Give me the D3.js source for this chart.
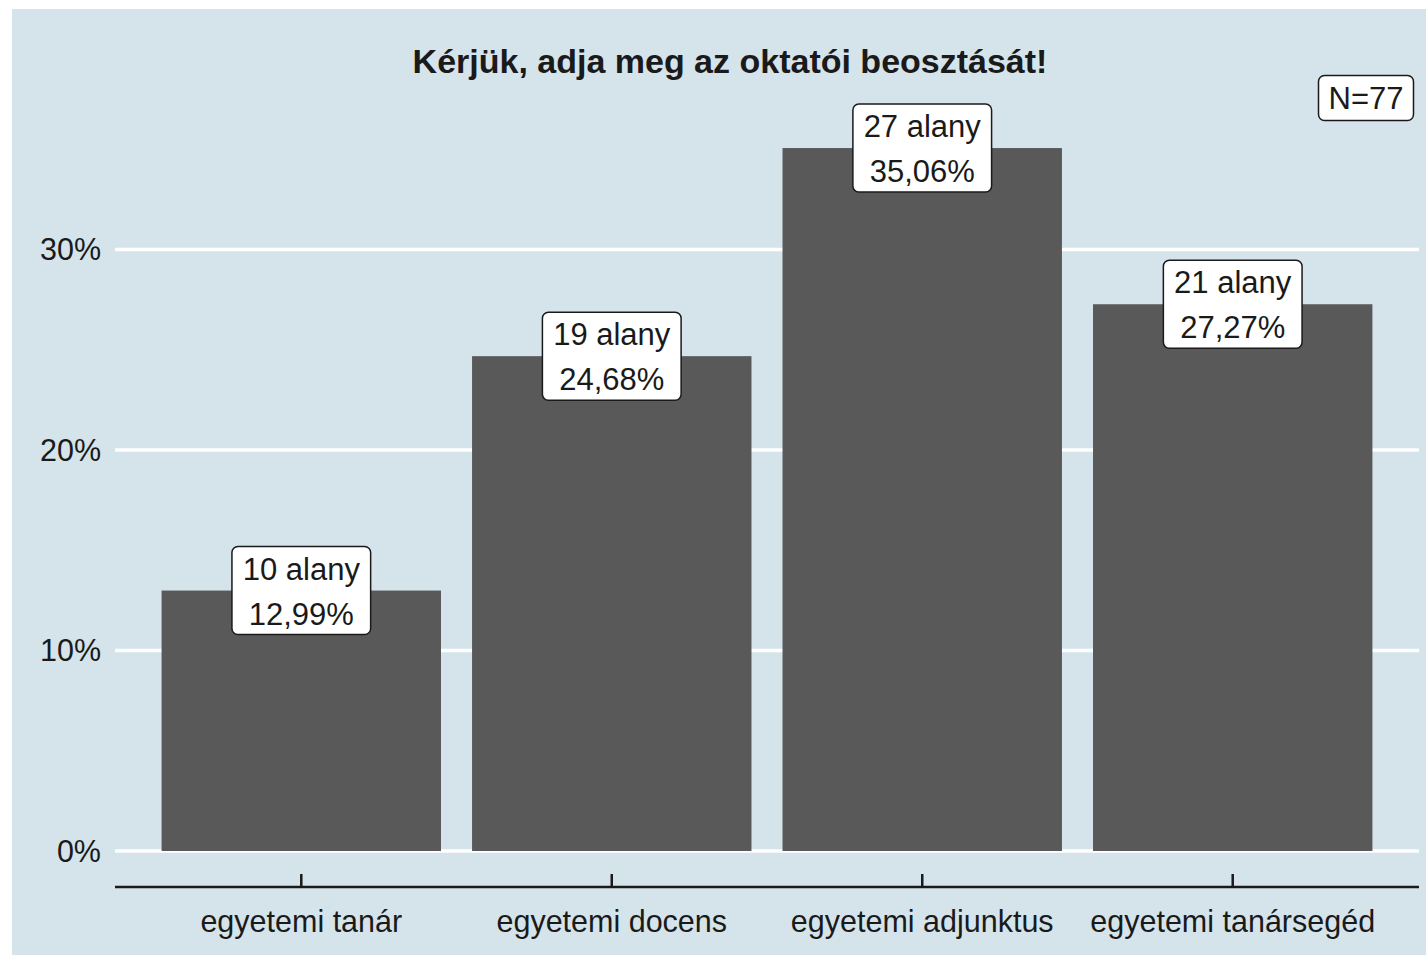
<!DOCTYPE html>
<html>
<head>
<meta charset="utf-8">
<script src="https://cdn.jsdelivr.net/npm/d3@7"></script>
<style>
  body { margin: 0; background: #fff; }
  text { font-family: "Liberation Sans", Arial, sans-serif; fill: #1a1a1a; }
</style>
</head>
<body>
<div id="chart"></div>
<script>
var categories = ["egyetemi tanár", "egyetemi docens", "egyetemi adjunktus", "egyetemi tanársegéd"];
var counts = [10, 19, 27, 21];
var percents = [12.99, 24.68, 35.06, 27.27];
var yTicks = [0, 10, 20, 30];
var totalN = 77;

var svgWidth = 1426, svgHeight = 955;

var svg = d3.select("#chart").append("svg")
  .attr("width", svgWidth)
  .attr("height", svgHeight);

// panel background
svg.append("rect")
  .attr("x", 12).attr("y", 9)
  .attr("width", svgWidth - 12).attr("height", svgHeight - 9)
  .attr("fill", "#d5e4eb");

var data = categories.map(function (c, i) {
  return { cat: c, n: counts[i], pct: percents[i] };
});

var x = d3.scaleBand()
  .domain(categories)
  .range([115, 1419])
  .paddingInner(0.1)
  .paddingOuter(0.15);

var y = d3.scaleLinear()
  .domain([0, 40])
  .range([851, 49]);

// gridlines
svg.append("g")
  .selectAll("line")
  .data(yTicks)
  .enter().append("line")
  .attr("x1", 115).attr("x2", 1419)
  .attr("y1", d => y(d)).attr("y2", d => y(d))
  .attr("stroke", "#fff")
  .attr("stroke-width", 3.5);

// y labels
svg.append("g")
  .selectAll("text")
  .data(yTicks)
  .enter().append("text")
  .attr("x", 101)
  .attr("y", d => y(d))
  .attr("dy", "0.36em")
  .attr("text-anchor", "end")
  .style("font-size", "30.5px")
  .text(d => d + "%");

// bars
svg.append("g")
  .selectAll("rect")
  .data(data)
  .enter().append("rect")
  .attr("x", d => x(d.cat))
  .attr("width", x.bandwidth())
  .attr("y", d => y(d.pct))
  .attr("height", d => y(0) - y(d.pct))
  .attr("fill", "#595959");

// x axis
var axisY = 887;
svg.append("line")
  .attr("x1", 115).attr("x2", 1419)
  .attr("y1", axisY).attr("y2", axisY)
  .attr("stroke", "#1a1a1a").attr("stroke-width", 2.5);

svg.append("g")
  .selectAll("line")
  .data(categories)
  .enter().append("line")
  .attr("x1", d => x(d) + x.bandwidth() / 2)
  .attr("x2", d => x(d) + x.bandwidth() / 2)
  .attr("y1", axisY).attr("y2", axisY - 13)
  .attr("stroke", "#1a1a1a").attr("stroke-width", 2.5);

svg.append("g")
  .selectAll("text")
  .data(categories)
  .enter().append("text")
  .attr("x", d => x(d) + x.bandwidth() / 2)
  .attr("y", 921)
  .attr("dy", "0.36em")
  .attr("text-anchor", "middle")
  .style("font-size", "30.5px")
  .text(d => d);

// value labels
var fmt = function (v) { return v.toFixed(2).replace(".", ","); };
var labels = svg.append("g")
  .selectAll("g")
  .data(data)
  .enter().append("g")
  .attr("transform", d => `translate(${x(d.cat) + x.bandwidth() / 2}, ${y(d.pct)})`);

labels.each(function (d) {
  var g = d3.select(this);
  var box = g.append("rect");
  var t1 = g.append("text")
    .attr("y", -22).attr("dy", "0.36em")
    .attr("text-anchor", "middle")
    .style("font-size", "31px")
    .text(d.n + " alany");
  var t2 = g.append("text")
    .attr("y", 23).attr("dy", "0.36em")
    .attr("text-anchor", "middle")
    .style("font-size", "31px")
    .text(fmt(d.pct) + "%");
  var w = Math.max(t1.node().getBBox().width, t2.node().getBBox().width) + 21;
  box.attr("x", -w / 2).attr("y", -44)
    .attr("width", w).attr("height", 88)
    .attr("rx", 6).attr("ry", 6)
    .attr("fill", "#fff")
    .attr("stroke", "#1a1a1a")
    .attr("stroke-width", 1.5);
});

// N box
var ng = svg.append("g").attr("transform", "translate(1366, 98)");
var nbox = ng.append("rect");
var nt = ng.append("text")
  .attr("dy", "0.36em")
  .attr("text-anchor", "middle")
  .style("font-size", "31px")
  .text("N=" + totalN);
var nw = nt.node().getBBox().width + 20;
nbox.attr("x", -nw / 2).attr("y", -22.5)
  .attr("width", nw).attr("height", 45)
  .attr("rx", 6).attr("ry", 6)
  .attr("fill", "#fff")
  .attr("stroke", "#1a1a1a")
  .attr("stroke-width", 1.5);

// title
svg.append("text")
  .attr("x", 730)
  .attr("y", 61)
  .attr("dy", "0.36em")
  .attr("text-anchor", "middle")
  .style("font-size", "34px")
  .style("font-weight", "bold")
  .text("Kérjük, adja meg az oktatói beosztását!");
</script>
</body>
</html>
